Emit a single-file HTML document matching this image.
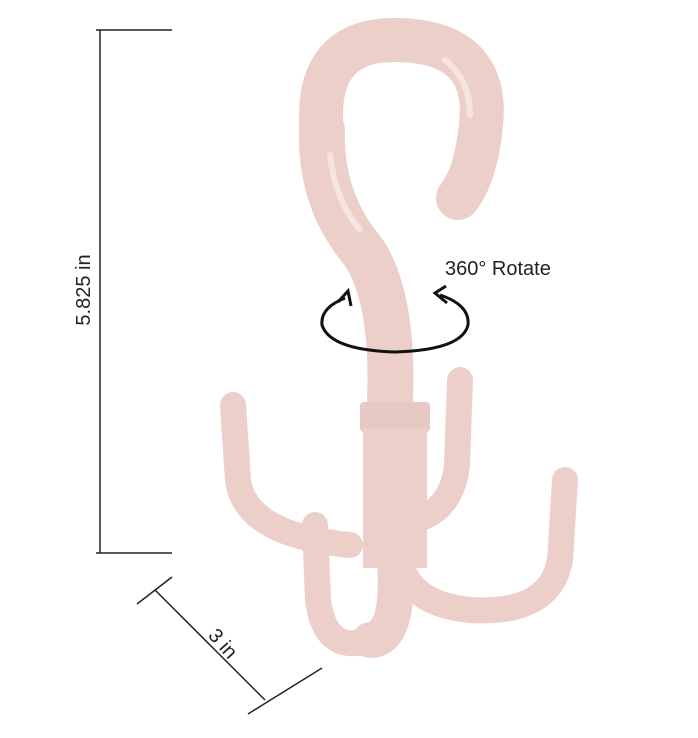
<!DOCTYPE html>
<html><head><meta charset="utf-8"><style>
html,body{margin:0;padding:0;background:#fff;width:698px;height:738px;overflow:hidden}
svg{display:block}
text{font-family:"Liberation Sans",sans-serif;fill:#222}
</style></head><body>
<svg width="698" height="738" viewBox="0 0 698 738">
<g stroke="#222" stroke-width="1.5" fill="none">
<line x1="100" y1="30" x2="100" y2="553"/>
<line x1="96" y1="30" x2="172" y2="30"/>
<line x1="96" y1="553" x2="172" y2="553"/>
</g>
<text x="0" y="0" font-size="20" text-anchor="middle" transform="translate(90,290) rotate(-90)">5.825 in</text>
<g stroke="#222" stroke-width="1.5" fill="none">
<line x1="155" y1="590" x2="265" y2="700"/>
<line x1="137" y1="604" x2="172" y2="577"/>
<line x1="248" y1="714" x2="322" y2="668"/>
</g>
<text x="0" y="0" font-size="20" text-anchor="middle" transform="translate(218,648) rotate(48)">3 in</text>
<g fill="none" stroke="#edcfca" stroke-linecap="round" stroke-linejoin="round">
<path d="M233 405 L238 480 Q245 535 350 545" stroke-width="26"/>
<path d="M460 380 L457 465 Q452 510 415 520" stroke-width="26"/>
<path d="M322 135 Q312 38 398 40 Q490 42 481 125 Q476 175 458 198" stroke-width="44"/>
<path d="M322 130 Q320 200 362 250 Q394 295 390 400" stroke-width="46"/>
<rect x="360" y="402" width="70" height="30" rx="4" fill="#e8c8c3" stroke="none"/>
<rect x="363" y="428" width="64" height="140" fill="#edcfca" stroke="none"/>
<path d="M395 560 Q400 640 370 640" stroke-width="36"/>
<path d="M315 525 L318 600 Q325 655 370 640 Q395 620 395 580" stroke-width="26"/>
<path d="M565 480 L560 560 Q550 615 470 610 Q420 605 405 575" stroke-width="26"/>
</g>
<g fill="none" stroke="#f6e4e1" stroke-width="6" stroke-linecap="round">
<path d="M330 155 Q335 200 360 230"/>
<path d="M445 60 Q470 80 470 115"/>
</g>
<g fill="none" stroke="#111" stroke-width="3">
<path d="M345 298 Q320 308 322 325 Q330 350 395 352 Q462 350 468 325 Q470 305 440 295"/>
<path d="M338 302 L348 291 L351 306" stroke-width="3"/>
<path d="M446 286 L435 293 L447 303" stroke-width="3"/>
</g>
<text x="445" y="275" font-size="20">360° Rotate</text>
</svg>
</body></html>
